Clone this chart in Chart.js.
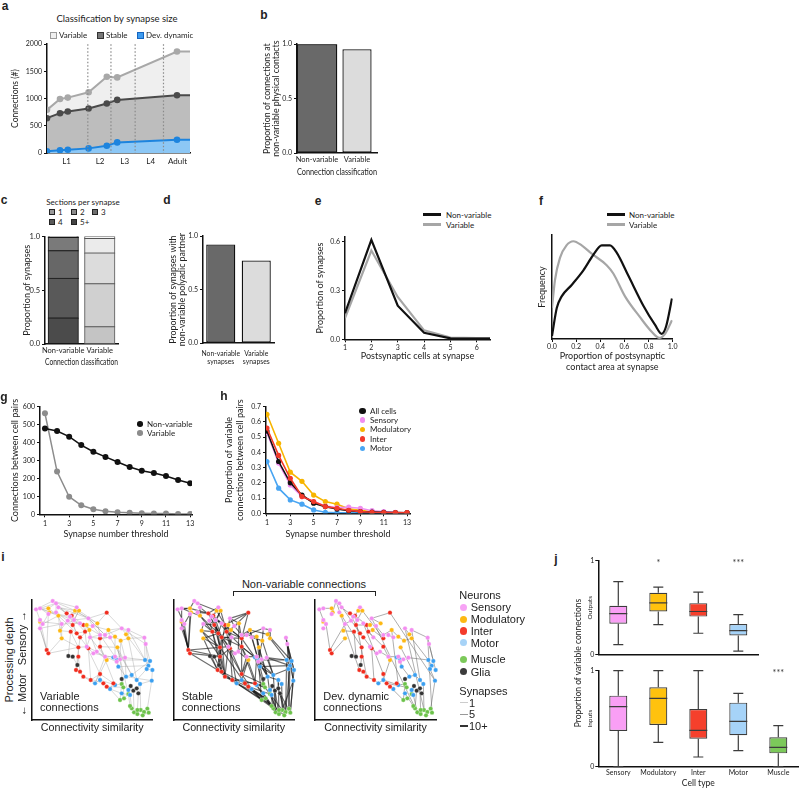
<!DOCTYPE html>
<html>
<head>
<meta charset="utf-8">
<title>Connection variability</title>
<script src="https://cdn.jsdelivr.net/npm/chart.js@4.4.1/dist/chart.umd.min.js"></script>
<style>
  body { margin: 0; background: #fff; }
  #fig { position: relative; width: 800px; height: 788px; overflow: hidden; font-family: Lato, sans-serif; color: #222; }
  #fig canvas { position: absolute; }
  .t { position: absolute; white-space: nowrap; line-height: 1; }
  .c { transform: translate(-50%, -50%); }
  .l { transform: translate(0, -50%); }
  .v { transform: translate(-50%, -50%) rotate(-90deg); }
  .sans { font-family: "Liberation Sans", Arial, sans-serif; }
  .lab { font: bold 12px "Liberation Sans", Arial, sans-serif; }
</style>
</head>
<body>
<div id="fig">
  <canvas id="chartA"></canvas>
  <canvas id="chartB"></canvas>
  <canvas id="chartC"></canvas>
  <canvas id="chartD"></canvas>
  <canvas id="chartE"></canvas>
  <canvas id="chartF"></canvas>
  <canvas id="chartG"></canvas>
  <canvas id="chartH"></canvas>
  <canvas id="chartI1"></canvas>
  <canvas id="chartI2"></canvas>
  <canvas id="chartI3"></canvas>
  <canvas id="chartJ1"></canvas>
  <canvas id="chartJ2"></canvas>
</div>
<script>
// ---- a: connections per developmental stage
const devHours = [0, 5, 8, 16, 23, 27, 50, 55];
const variableConnections = [793, 994, 1018, 1116, 1402, 1390, 1866, 1866];
const stableConnections = [640, 732, 762, 817, 909, 976, 1061, 1061];
const dynamicConnections = [30, 49, 61, 85, 134, 195, 244, 244];
const moltHours = [15.7, 24.6, 33.9, 44.8];
const stageNames = ['L1', 'L2', 'L3', 'L4', 'Adult'];
const stageHours = [7.5, 20.4, 29.9, 39.9, 50.2];
const connTicks = [0, 500, 1000, 1500, 2000];

// ---- b
const classNames = ['Non-variable', 'Variable'];
const physicalContactShare = [1.0, 0.954];

// ---- c
const sectionNames = ['1', '2', '3', '4', '5+'];
const sectionsNonVariable = [0.24, 0.37, 0.256, 0.124, 0.01];
const sectionsVariable = [0.16, 0.40, 0.285, 0.135, 0.02];

// ---- d
const polyadicNames = [['Non-variable', 'synapses'], ['Variable', 'synapses']];
const polyadicShare = [0.922, 0.773];

// ---- e
const postCells = [1, 2, 3, 4, 5, 6, 6.5];
const postNonVariable = [0.16, 0.61, 0.206, 0.04, 0.006, 0.004, 0.004];
const postVariable = [0.13, 0.545, 0.26, 0.055, 0.01, 0.008, 0.008];

// ---- f
const contactAreaNV = [0, 0.04, 0.08, 0.163, 0.26, 0.343, 0.412, 0.48, 0.536, 0.632, 0.757, 0.854, 0.909, 0.945, 0.994];
const freqNV = [0.03, 0.30, 0.41, 0.52, 0.66, 0.81, 0.90, 0.90, 0.83, 0.61, 0.32, 0.135, 0.05, 0.12, 0.39];
const contactAreaV = [0, 0.025, 0.066, 0.12, 0.177, 0.246, 0.329, 0.453, 0.508, 0.605, 0.729, 0.826, 0.89, 0.937, 0.994];
const freqV = [0.30, 0.57, 0.78, 0.90, 0.94, 0.90, 0.82, 0.71, 0.63, 0.41, 0.21, 0.07, 0.01, 0.05, 0.18];

// ---- g
const thresholds = [1, 2, 3, 4, 5, 6, 7, 8, 9, 10, 11, 12, 13];
const pairsNonVariable = [479, 464, 433, 386, 349, 320, 292, 264, 243, 230, 214, 191, 173];
const pairsVariable = [563, 238, 98, 50, 28, 17, 11, 9, 6, 4, 4, 2, 2];

// ---- h
const hNames = ['All cells', 'Sensory', 'Modulatory', 'Inter', 'Motor'];
const hAll = [0.54, 0.34, 0.20, 0.12, 0.066, 0.044, 0.028, 0.017, 0.011, 0.008, 0.006, 0.005, 0.004];
const hSensory = [0.53, 0.33, 0.186, 0.11, 0.077, 0.048, 0.037, 0.04, 0.033, 0.017, 0.011, 0.006, 0.004];
const hModulatory = [0.65, 0.46, 0.27, 0.21, 0.12, 0.077, 0.06, 0.03, 0.02, 0.01, 0.007, 0.005, 0.004];
const hInter = [0.56, 0.38, 0.23, 0.11, 0.077, 0.044, 0.033, 0.02, 0.011, 0.007, 0.005, 0.004, 0.004];
const hMotor = [0.34, 0.165, 0.088, 0.06, 0.022, 0.007, 0.004, 0.003, 0.003, 0.003, 0.002, 0.002, 0.002];

// ---- i: node layout (similarity, depth) in layout units
const sensoryNodes = [[108,268],[120,265],[158,243],[168,250],[120,300],[128,312],[120,325],[175,262],[168,277],[210,290],[203,302],[185,312],[222,300],[240,310],[265,295],[278,318],[300,345],[315,345],[270,352],[260,380],[290,395],[315,410],[345,410],[360,418],[375,413],[365,325],[385,330],[433,353],[437,372],[230,262],[145,282],[280,400],[330,352],[350,425]];
const modulatoryNodes = [[145,265],[148,277],[175,287],[225,272],[237,272],[185,355],[180,332],[260,315],[292,310],[325,330],[345,350],[362,362],[385,355],[378,343],[320,420],[352,382],[120,305],[268,330]];
const interNodes = [[140,390],[145,400],[200,280],[215,287],[230,340],[240,352],[250,315],[255,335],[265,385],[235,382],[228,450],[240,455],[250,470],[272,480],[300,462],[310,490],[320,500],[340,490],[320,278],[300,355],[212,335],[235,410],[218,315],[300,380]];
const motorNodes = [[285,490],[300,480],[330,507],[345,495],[350,420],[355,440],[378,470],[385,510],[395,465],[410,480],[420,492],[435,420],[450,423],[445,437],[440,447],[457,450],[455,482],[340,412],[365,520],[390,525]];
const muscleNodes = [[365,492],[370,502],[360,540],[372,535],[385,522],[395,565],[402,577],[412,582],[422,570],[432,576],[442,566],[446,578],[428,586],[412,570],[390,558]];
const gliaNodes = [[205,408],[218,410],[232,435],[365,477],[392,498],[400,512],[410,505],[415,520]];

const edgesVariable = 's0-s4 s0-o0 s1-s3 s1-o1 s2-s7 s2-o3 s3-s8 s3-i2 s4-s5 s5-o2 s6-i0 s6-s11 s7-s9 s8-s10 s9-s12 s10-o6 s11-o5 s12-s13 s13-o7 s14-i18 s14-s15 s15-s16 s16-s17 s17-s25 s18-i19 s19-s20 s20-s21 s21-s22 s22-s23 s23-m4 s24-m11 s25-s26 s26-s27 s27-s28 s28-m12 s29-i3 s30-i0 s31-m17 s32-o10 s33-m5 o0-o2 o1-s9 o2-i4 o3-s14 o4-o8 o5-i9 o6-i20 o7-i7 o8-s16 o9-o10 o10-o11 o11-o12 o12-s27 o13-s26 o14-m0 o15-m8 o16-s11 o17-s18 i0-i1 i1-i9 i2-i3 i3-i6 i4-i5 i5-i8 i6-i7 i7-s19 i8-i13 i9-i21 i10-i11 i11-i12 i12-m0 i13-i14 i14-m1 i15-m2 i16-u1 i17-m3 i18-s25 i19-s32 i20-g0 i21-g2 i22-i4 i23-s21 m0-m1 m1-m3 m2-u2 m3-u0 m4-m5 m5-m6 m6-m8 m7-u4 m8-m9 m9-m10 m10-u8 m11-m12 m12-m13 m13-m14 m14-m15 m15-m16 m16-u10 m17-s33 m18-u3 m19-u5 g3-u1 g4-u4 g5-u6 g6-m10 g7-u13 u0-u2 u5-u6 u7-u8 u9-u10 s13-i6 s12-o4 s3-s7 s15-o9 o9-s32 s20-o14 i19-i23 s16-s22 o11-s24 s4-i0 s8-o2 s10-i22 o5-i1 i5-i10 i12-i15 m17-m4 s1-s12 s7-s14 o3-o8 s9-i4 s12-i7 s14-s17 s18-s21 s19-i14 o7-s20 i6-s16 s25-s28 o13-m11 s26-m13 o12-m9 s24-m6 s23-u1 o15-u4 s32-m8 i23-m3 s21-m0 ' +
  's0-s2 s1-s30 s2-s29 s4-o16 s5-s30 s6-o16 s7-o3 s8-s11 s9-o4 s10-s13 s11-s13 s12-s14 s13-s15 s14-s17 s15-o17 s16-s18 s17-o9 s18-s19 s19-i9 s20-s31 s21-s33 s22-s24 s23-s24 s25-o13 s26-o12 s27-m11 s28-m13 o0-s3 o1-o2 o2-o6 o3-o4 o4-s12 o5-o6 o6-s11 o7-o17 o8-i18 o9-s25 o10-s22 o11-s23 o13-o12 o14-s21 o15-s23 i0-s6 i2-s7 i4-i7 i5-o17 i8-s31 i9-i20 i13-m0 i14-i17 i16-m2 i17-m2 i19-o10 i21-i11 i23-o15 m4-m11 m5-m13 m6-m16 m8-m12 m9-m14 m10-m16 m17-s23 m18-m19 m2-m18 m7-m19 g0-g1 g1-g2 g2-i10 g4-g5 g6-g7 u1-u3 u2-u3 u3-u4 u4-u14 u14-u5 u6-u7 u8-u9 u10-u11 u11-u12 u12-u7 u13-u8';
const edgesStable = 's0-s5 s0-o0 s1-o1 s1-s4 s2-o0 s2-s3 s3-o3 s4-i0 s5-i0 s6-i1 s6-o16 s7-o2 s8-i2 s9-i3 s10-i22 s11-o6 s12-o4 s13-i6 s14-o8 s15-i18 s16-o9 s17-s25 s18-i7 s19-i8 s20-i23 s21-s22 s22-m4 s23-m17 s24-m11 s25-s26 s26-o12 s27-s28 s28-m15 s29-o3 s30-o1 s31-s20 s32-o10 s33-m5 o0-i2 o1-o2 o2-i4 o3-i6 o4-i7 o5-i9 o6-i20 o7-i5 o8-i19 o9-i19 o10-s23 o11-m4 o12-s26 o13-o9 o14-i14 o15-m5 o16-i0 o17-i7 i0-i9 i1-i21 i2-i22 i3-i4 i4-i5 i4-i8 i5-i9 i5-i19 i6-i7 i7-i19 i7-i23 i8-i13 i8-i21 i9-i10 i9-i11 i10-i12 i11-i13 i12-m0 i13-m1 i14-m2 i14-u0 i15-u2 i16-u3 i17-u1 i18-s14 i19-s16 i20-i4 i21-g2 i22-i5 i23-o14 i23-m17 m0-u2 m1-u1 m2-u3 m3-u0 m4-m6 m5-m8 m6-u4 m7-u5 m8-u6 m9-u7 m10-u8 m11-m13 m12-m15 m13-u9 m14-u10 m15-u11 m16-u11 m17-m5 m18-u5 m19-u6 g3-m6 g4-u4 g5-u7 g6-m9 g7-u12 u0-u1 i4-i14 i5-i12 i6-i8 i19-i14 i23-i17 s16-i23 s17-o10 o9-m4 o10-m5 o11-m8 s21-m3 s22-i17 o15-m6 i8-m0 i9-i15 i21-i12 i20-i11 s13-i4 s12-i5 o7-i8 o8-s20 s18-i8 s19-i12 o17-i19 i6-i21 i3-i9 s11-i20 o6-i21 o5-i10 i2-i5 s9-i6 i22-i8 s14-i7 s15-o17 i18-i19 m4-u2 m5-u1 m17-u0 s23-m6 s24-m8 s32-m4 o12-m11 o13-m12 s28-m14 s27-m16 m16-u8 m13-u10 m11-u9 i16-u4 i17-u6 m3-u7 m2-u12 i15-u5 m0-u13 ' +
  's1-o0 s4-o16 s5-o1 s7-s9 s8-o2 s10-i20 s11-i22 s12-i6 s13-o7 s14-s15 s15-s16 s16-s17 s17-o9 s18-i5 s19-i9 s20-o14 s21-i14 s22-m17 s23-m5 s25-o11 s26-o13 s29-i2 s30-i0 s31-i8 o1-i0 o2-i20 o3-i3 o4-i22 o5-i4 o6-i9 o8-i7 o9-s32 o10-o15 o11-s32 o14-m1 o16-i1 o17-i8 i0-i21 i1-i10 i2-i6 i3-i7 i4-i9 i5-i23 i6-i19 i8-i14 i9-i12 i10-i13 i11-i15 i12-i16 i13-i17 i18-i6 i19-m17 i20-i21 i22-i9 i23-m4 m4-m11 m5-m13 m6-m9 m8-m14 m17-m8 s33-m6 m1-u2 m0-u3 g0-i10 g1-i11 g2-i12 g3-u0 g4-m7 g5-u6 g6-u9 g7-u11 u2-u5 u3-u6 u4-u7 u1-u8 s24-m13 s27-m12 s28-m16';
const edgesDynamic = 's0-s4 s1-o0 s2-o1 s3-s7 s4-o16 s5-i0 s7-s9 s8-o2 s9-i2 s10-s11 s11-i0 s12-o4 s13-o7 s14-i18 s15-s16 s16-o9 s17-s32 s18-i7 s19-s31 s20-s21 s21-s22 s22-s23 s23-m4 s24-m11 s25-o13 s26-s27 s27-m12 s28-m15 s29-o3 s30-o1 s33-m5 o0-o1 o2-i9 o3-i3 o5-i1 o6-i20 o8-s14 o9-o10 o10-o11 o11-o12 o12-m11 o14-m1 o15-m8 o17-i19 i0-i1 i2-i4 i3-i6 i4-i5 i5-i8 i6-i7 i7-i23 i8-i13 i9-i21 i10-i11 i11-i12 i12-i13 i13-m0 i14-m1 i15-u1 i16-u2 i17-m3 i19-s16 i20-g1 i21-g2 i22-i6 i23-s21 m0-m1 m1-m3 m3-u0 m4-m5 m5-m6 m6-m8 m7-u4 m8-m9 m9-m10 m10-u8 m11-m13 m13-m14 m14-m16 m16-u10 m17-s22 m18-u5 m19-u6 g3-m6 g4-u4 g5-u5 g6-u7 u0-u2 u5-u7 u9-u10 s2-i10 s3-i4 o4-i19 i3-i12 s13-i14 s14-u6 o9-m3 s26-m9 s25-u8 i18-m16 s27-u11';

// ---- j: box plots (min, q1, median, q3, max)
const cellTypes = ['Sensory', 'Modulatory', 'Inter', 'Motor', 'Muscle'];
const outMin = [0.108, 0.32, 0.229, 0.038];
const outQ1 = [0.33, 0.46, 0.406, 0.205];
const outMed = [0.4375, 0.552, 0.46, 0.257];
const outQ3 = [0.52, 0.66, 0.549, 0.327];
const outMax = [0.778, 0.72, 0.667, 0.427];
const outStars = ['', '*', '', '***'];
const inMin = [0.0, 0.254, 0.101, 0.167, 0.0];
const inQ1 = [0.372, 0.434, 0.292, 0.327, 0.139];
const inMed = [0.625, 0.712, 0.379, 0.473, 0.202];
const inQ3 = [0.74, 0.827, 0.601, 0.667, 0.306];
const inMax = [1.0, 1.0, 1.0, 0.764, 0.427];
const inStars = ['', '', '', '', '***'];

// ---------------------------------------------------------------
const AX = '#111';
const FONT = 'Lato, sans-serif';
const SANS = '"Liberation Sans", Arial, sans-serif';
Chart.defaults.font.family = FONT;
Chart.defaults.color = '#222';
Chart.defaults.animation = false;
Chart.defaults.responsive = false;
Chart.defaults.plugins.legend.display = false;
Chart.defaults.plugins.tooltip.enabled = false;

const xy = (xs, ys) => xs.map((x, i) => ({x: x, y: ys[i]}));

function scaleOpts(o) {
  const s = {
    type: o.type || 'linear',
    reverse: !!o.reverse,
    stacked: !!o.stacked,
    border: {color: AX, width: 1.5},
    grid: {display: o.marks !== false, drawOnChartArea: false, drawTicks: o.marks !== false, tickLength: 3, tickColor: AX, tickWidth: 1},
    ticks: {display: o.labels !== false, padding: o.pad === undefined ? 2 : o.pad, font: {size: o.font || 7.5, family: o.family || FONT}, color: '#222', maxRotation: 0, autoSkip: false}
  };
  if (o.min !== undefined) s.min = o.min;
  if (o.max !== undefined) s.max = o.max;
  if (o.ticks) s.afterBuildTicks = sc => { sc.ticks = o.ticks.map(v => ({value: v})); };
  if (o.fmt) s.ticks.callback = o.fmt;
  if (o.title) {
    s.title = {display: true, text: o.title, color: '#222',
      font: {size: o.titleFont || 9, family: o.family || FONT, lineHeight: o.titleLH || 1.2},
      padding: {top: o.titlePad || 0, bottom: o.titlePad || 0}};
  }
  return s;
}

// box = canvas [left, top, width, height], plot = [left, top, right, bottom] on the page
function makeChart(id, box, plot, config) {
  const cv = document.getElementById(id);
  cv.width = box[2]; cv.height = box[3];
  cv.style.left = box[0] + 'px'; cv.style.top = box[1] + 'px';
  const yw = plot[0] - box[0], xh = box[1] + box[3] - plot[3];
  config.options.layout = {autoPadding: false, padding: {top: plot[1] - box[1], right: box[0] + box[2] - plot[2], left: 0, bottom: 0}};
  config.options.scales.x.afterFit = s => { s.height = xh; };
  config.options.scales.y.afterFit = s => { s.width = yw; };
  return new Chart(cv, config);
}

// ---- a
const moltLines = {
  id: 'moltLines',
  afterDatasetsDraw(chart) {
    const {ctx, chartArea, scales} = chart;
    ctx.save();
    ctx.strokeStyle = '#8a8a8a'; ctx.lineWidth = 1.2; ctx.setLineDash([1.5, 2]);
    moltHours.forEach(h => {
      const x = scales.x.getPixelForValue(h);
      ctx.beginPath(); ctx.moveTo(x, chartArea.top); ctx.lineTo(x, chartArea.bottom); ctx.stroke();
    });
    ctx.restore();
  }
};
function areaSeries(ys, line, fill) {
  return {data: xy(devHours, ys), borderColor: line, backgroundColor: fill, fill: 'origin', borderWidth: 2,
    pointRadius: ys.map((v, i) => i < ys.length - 1 ? 3.3 : 0), pointBackgroundColor: line, pointBorderWidth: 0, tension: 0};
}
makeChart('chartA', [0, 38, 200, 137], [47, 44, 190, 153], {
  type: 'line',
  data: {datasets: [
    areaSeries(dynamicConnections, '#1d84de', '#8cc7f5'),
    areaSeries(stableConnections, '#4a4a4a', '#bdbdbd'),
    areaSeries(variableConnections, '#a8a8a8', '#efefef')
  ]},
  options: {scales: {
    x: scaleOpts({min: 0, max: 55, ticks: stageHours, fmt: (v, i) => stageNames[i], marks: false, font: 8, pad: 4}),
    y: scaleOpts({min: 0, max: 2000, ticks: connTicks, fmt: v => String(v), font: 7, title: 'Connections (#)', titleFont: 8.5, titlePad: 9.9})
  }},
  plugins: [moltLines]
});

// ---- b
makeChart('chartB', [240, 38, 145, 140], [297, 44, 377, 153], {
  type: 'bar',
  data: {labels: classNames, datasets: [
    {data: physicalContactShare.map((v, i) => i === 0 ? v : null), backgroundColor: '#696969', borderColor: AX, borderWidth: 1.3, borderSkipped: false, grouped: false, barPercentage: 1, categoryPercentage: 1},
    {data: physicalContactShare.map((v, i) => i === 1 ? v : null), backgroundColor: '#dcdcdc', borderColor: AX, borderWidth: 1.3, borderSkipped: false, grouped: false, barPercentage: 0.73, categoryPercentage: 1}
  ]},
  options: {scales: {
    x: scaleOpts({type: 'category', marks: false, font: 7.5, pad: 2.5, title: 'Connection classification', titleFont: 9, titlePad: 0.6}),
    y: scaleOpts({min: 0, max: 1, ticks: [0, 0.5, 1], fmt: v => v.toFixed(1), font: 7, title: ['Proportion of connections at', 'non-variable physical contacts'], titleFont: 8.8, titleLH: 1.05, titlePad: 22.5})
  }}
});

// ---- c
const nonVarShades = ['#4b4b4b', '#595959', '#676767', '#7a7a7a', '#8a8a8a'];
const varShades = ['#c4c4c4', '#d0d0d0', '#dcdcdc', '#ebebeb', '#f7f7f7'];
makeChart('chartC', [0, 230, 125, 138], [45, 236, 118, 344], {
  type: 'bar',
  data: {labels: classNames, datasets: sectionNames.map((name, i) => ({
    label: name, data: [sectionsNonVariable[i], sectionsVariable[i]],
    backgroundColor: [nonVarShades[i], varShades[i]], borderColor: ['#151515', '#555555'], borderWidth: 1, borderSkipped: false,
    inflateAmount: 0.6, barPercentage: 0.82, categoryPercentage: 1}))},
  options: {scales: {
    x: scaleOpts({type: 'category', stacked: true, marks: false, font: 7.5, pad: 2.5, title: 'Connection classification', titleFont: 9, titlePad: 0.6}),
    y: scaleOpts({stacked: true, min: 0, max: 1, ticks: [0, 0.5, 1], fmt: v => v.toFixed(1), font: 7.5, title: 'Proportion of synapses', titleFont: 9, titlePad: 21.6})
  }}
});

// ---- d
makeChart('chartD', [160, 230, 120, 145], [203, 236, 274, 343], {
  type: 'bar',
  data: {labels: polyadicNames, datasets: [
    {data: polyadicShare, backgroundColor: ['#696969', '#dcdcdc'], borderColor: AX, borderWidth: 1.3, borderSkipped: false, barPercentage: 0.82, categoryPercentage: 1}
  ]},
  options: {scales: {
    x: scaleOpts({type: 'category', marks: false, font: 6.8, pad: 7}),
    y: scaleOpts({min: 0, max: 1, ticks: [0, 0.5, 1], fmt: v => v.toFixed(1), font: 7, title: ['Proportion of synapses with', 'non-variable polyadic partner'], titleFont: 8.8, titleLH: 1.05, titlePad: 8.8})
  }}
});

// ---- e
function plainLine(xs, ys, color, width, extra) {
  return Object.assign({data: xy(xs, ys), borderColor: color, backgroundColor: color, borderWidth: width, pointRadius: 0, fill: false, tension: 0}, extra || {});
}
makeChart('chartE', [305, 230, 195, 140], [345, 236.7, 490, 339.3], {
  type: 'line',
  data: {datasets: [
    plainLine(postCells, postNonVariable, '#111', 2.2),
    plainLine(postCells, postVariable, '#a6a6a6', 2.2)
  ]},
  options: {scales: {
    x: scaleOpts({min: 1, max: 6.5, ticks: [1, 2, 3, 4, 5, 6], font: 7, pad: 1, title: 'Postsynaptic cells at synapse', titleFont: 9, titlePad: 8.6}),
    y: scaleOpts({min: 0, max: 0.63, ticks: [0, 0.3, 0.6], fmt: v => v.toFixed(1), font: 7, title: 'Proportion of synapses', titleFont: 9, titlePad: 9.6})
  }}
});

// ---- f
makeChart('chartF', [530, 228, 150, 145], [552, 235, 672.7, 339], {
  type: 'line',
  data: {datasets: [
    plainLine(contactAreaNV, freqNV, '#111', 2.2, {cubicInterpolationMode: 'monotone'}),
    plainLine(contactAreaV, freqV, '#a6a6a6', 2.2, {cubicInterpolationMode: 'monotone'})
  ]},
  options: {scales: {
    x: scaleOpts({min: 0, max: 1, ticks: [0, 0.2, 0.4, 0.6, 0.8, 1], fmt: v => v.toFixed(1), font: 7, pad: 1, title: ['Proportion of postsynaptic', 'contact area at synapse'], titleFont: 9, titlePad: 0.8}),
    y: scaleOpts({min: 0, max: 1, marks: false, labels: false, title: 'Frequency', titleFont: 9, titlePad: 6.6})
  }}
});

// ---- g
makeChart('chartG', [0, 398, 200, 142], [40, 406.7, 192, 514.3], {
  type: 'line',
  data: {datasets: [
    plainLine(thresholds, pairsNonVariable, '#111', 1.5, {pointRadius: 3, pointBorderWidth: 0}),
    plainLine(thresholds, pairsVariable, '#8c8c8c', 1.5, {pointRadius: 3, pointBorderWidth: 0})
  ]},
  options: {scales: {
    x: scaleOpts({min: 0.59, max: 13.15, ticks: [1, 3, 5, 7, 9, 11, 13], font: 7, pad: 2.2, title: 'Synapse number threshold', titleFont: 9, titlePad: 0.6}),
    y: scaleOpts({min: 0, max: 600, ticks: [0, 100, 200, 300, 400, 500, 600], font: 7, title: 'Connections between cell pairs', titleFont: 9, titlePad: 9.6})
  }}
});

// ---- h
const hValues = [hAll, hSensory, hModulatory, hInter, hMotor];
const hColors = ['#111111', '#f08ef0', '#f7b500', '#f23a2a', '#49a5f2'];
const hDrawOrder = [3, 0, 1, 2, 4];
makeChart('chartH', [220, 398, 195, 142], [266, 406.7, 410, 513.3], {
  type: 'line',
  data: {datasets: hDrawOrder.map(k => plainLine(thresholds, hValues[k], hColors[k], 1.6, {pointRadius: 2.6, pointBorderWidth: 0}))},
  options: {scales: {
    x: scaleOpts({min: 0.92, max: 13.25, ticks: [1, 3, 5, 7, 9, 11, 13], font: 7, pad: 2.2, title: 'Synapse number threshold', titleFont: 9, titlePad: 0.6}),
    y: scaleOpts({min: 0, max: 0.7, ticks: [0, 0.1, 0.2, 0.3, 0.4, 0.5, 0.6, 0.7], fmt: v => v.toFixed(1), font: 7, title: ['Proportion of variable', 'connections between cell pairs'], titleFont: 9, titlePad: 3.9})
  }}
});

// ---- i: network graphs
const nodeGroups = {s: sensoryNodes, o: modulatoryNodes, i: interNodes, m: motorNodes, u: muscleNodes, g: gliaNodes};
const nodeColors = {s: '#f38ef0', o: '#fdb813', i: '#f02c1e', m: '#3a9ff0', u: '#6cc24a', g: '#333333'};
function parseEdges(str) {
  return str.trim().split(/\s+/).map(p => p.split('-').map(k => nodeGroups[k[0]][+k.slice(1)]));
}
function edgePlugin(pairs, color, width) {
  return {
    id: 'edges',
    beforeDatasetsDraw(chart) {
      const {ctx, scales: {x, y}} = chart;
      ctx.save();
      ctx.strokeStyle = color; ctx.lineWidth = width; ctx.lineCap = 'round';
      pairs.forEach(([a, b]) => {
        ctx.beginPath();
        ctx.moveTo(x.getPixelForValue(a[0]), y.getPixelForValue(a[1]));
        ctx.lineTo(x.getPixelForValue(b[0]), y.getPixelForValue(b[1]));
        ctx.stroke();
      });
      ctx.restore();
    }
  };
}
function networkChart(id, left, plotLeft, edges, color, width) {
  const datasets = ['g', 'u', 'm', 'i', 'o', 's'].map(k => ({
    data: nodeGroups[k].map(p => ({x: p[0], y: p[1]})),
    backgroundColor: nodeColors[k], pointRadius: 2.2, pointBorderWidth: 0.4, pointBorderColor: 'rgba(255,255,255,0.8)', clip: false
  }));
  makeChart(id, [left, 595, 142, 145], [plotLeft, 600, plotLeft + 121, 720], {
    type: 'scatter',
    data: {datasets: datasets.reverse()},
    options: {scales: {
      x: scaleOpts({min: 95, max: 458, marks: false, labels: false, title: 'Connectivity similarity', titleFont: 10.7, titlePad: 5.3, family: SANS}),
      y: scaleOpts({min: 240, max: 600, reverse: true, marks: false, labels: false})
    }},
    plugins: [edgePlugin(parseEdges(edges), color, width)]
  });
}
networkChart('chartI1', 20, 31.7, edgesVariable, 'rgba(135,135,135,0.42)', 0.75);
networkChart('chartI2', 162, 173.3, edgesStable, 'rgba(20,20,20,0.62)', 1.15);
networkChart('chartI3', 303, 315, edgesDynamic, 'rgba(105,105,105,0.6)', 0.9);

// ---- j: box plots
function boxPlugin(mins, meds, maxs, stars) {
  return {
    id: 'whiskers',
    afterDatasetsDraw(chart) {
      const {ctx, scales: {y}} = chart;
      const meta = chart.getDatasetMeta(0);
      ctx.save();
      ctx.strokeStyle = '#3c3c3c'; ctx.lineWidth = 1.2;
      meta.data.forEach((bar, i) => {
        const cx = bar.x, hw = bar.width / 2, cap = 5;
        const yMin = y.getPixelForValue(mins[i]), yMax = y.getPixelForValue(maxs[i]);
        const yMed = y.getPixelForValue(meds[i]);
        const lo = Math.max(bar.y, bar.base), hi = Math.min(bar.y, bar.base);
        ctx.beginPath();
        ctx.moveTo(cx, hi); ctx.lineTo(cx, yMax);
        ctx.moveTo(cx - cap, yMax); ctx.lineTo(cx + cap, yMax);
        ctx.moveTo(cx, lo); ctx.lineTo(cx, yMin);
        ctx.moveTo(cx - cap, yMin); ctx.lineTo(cx + cap, yMin);
        ctx.moveTo(cx - hw, yMed); ctx.lineTo(cx + hw, yMed);
        ctx.stroke();
        if (stars[i]) {
          ctx.fillStyle = '#333'; ctx.font = '9px ' + FONT; ctx.textAlign = 'center'; ctx.textBaseline = 'middle';
          ctx.fillText(stars[i], cx, y.getPixelForValue(1) + 2);
        }
      });
      ctx.restore();
    }
  };
}
const cellColors = ['#f99ff5', '#ffc20e', '#f5402c', '#a6d3f8', '#7cc95a'];
function boxChart(id, box, plot, n, q1, q3, mins, meds, maxs, stars, bottom) {
  makeChart(id, box, plot, {
    type: 'bar',
    data: {labels: cellTypes.slice(0, n), datasets: [{
      data: q1.map((v, i) => [v, q3[i]]), backgroundColor: cellColors.slice(0, n),
      borderColor: '#3c3c3c', borderWidth: 1.2, borderSkipped: false, barPercentage: 0.45, categoryPercentage: 1
    }]},
    options: {scales: {
      x: bottom
        ? scaleOpts({type: 'category', marks: false, font: 7, pad: 2, title: 'Cell type', titleFont: 8.5, titlePad: 0})
        : scaleOpts({type: 'category', marks: false, labels: false}),
      y: scaleOpts({min: 0, max: 1, ticks: [0, 1], font: 7, pad: 1, title: bottom ? 'Inputs' : 'Outputs', titleFont: 6.5, titlePad: 26.1})
    }},
    plugins: [boxPlugin(mins, meds, maxs, stars)]
  });
}
boxChart('chartJ1', [560, 550, 240, 110], [598.3, 560.7, 758.3, 656.7], 4, outQ1, outQ3, outMin, outMed, outMax, outStars, false);
boxChart('chartJ2', [560, 660, 240, 128], [598.3, 670.7, 798.3, 766.7], 5, inQ1, inQ3, inMin, inMed, inMax, inStars, true);

// ---- text, legends, annotations
const fig = document.getElementById('fig');
function addText(txt, x, y, cls, css) {
  const d = document.createElement('div');
  d.className = 't ' + (cls || 'l');
  d.textContent = txt;
  d.style.left = x + 'px'; d.style.top = y + 'px';
  if (css) d.style.cssText += css;
  fig.appendChild(d);
  return d;
}
function addShape(x, y, w, h, css) {
  const d = document.createElement('div');
  d.style.cssText = 'position:absolute;box-sizing:border-box;left:' + x + 'px;top:' + y + 'px;width:' + w + 'px;height:' + h + 'px;' + css;
  fig.appendChild(d);
  return d;
}
const dot = (x, y, r, color) => addShape(x - r, y - r, 2 * r, 2 * r, 'border-radius:50%;background:' + color);
const square = (x, y, s, fill, stroke) => addShape(x, y - s / 2, s, s, 'background:' + fill + ';border:1px solid ' + stroke);
const hline = (x1, x2, y, t, color) => addShape(x1, y - t / 2, x2 - x1, t, 'background:' + color);

[['a', 5, 6], ['b', 264, 15], ['c', 4, 200], ['d', 167, 200], ['e', 318, 201], ['f', 541, 201],
 ['g', 4, 397], ['h', 224, 396], ['i', 3, 557], ['j', 556, 559]].forEach(p => addText(p[0], p[1], p[2], 'c lab'));

// a
addText('Classification by synapse size', 117, 19, 'c', 'font-size:9.5px');
square(50, 35, 7, '#efefef', '#9a9a9a'); addText('Variable', 59, 35, 'l', 'font-size:8px');
square(97, 35, 7, '#777777', '#333333'); addText('Stable', 106, 35, 'l', 'font-size:8px');
square(137, 35, 7, '#3d9bf0', '#1565c0'); addText('Dev. dynamic', 146, 35, 'l', 'font-size:8px');

// c
addText('Sections per synapse', 83, 202, 'c', 'font-size:8px');
const legendShades = ['#9a9a9a', '#8a8a8a', '#6e6e6e', '#5a5a5a', '#444444'];
const sectionSpots = [[49, 212], [71, 212], [92, 212], [49, 222], [71, 222]];
sectionNames.forEach((n, i) => {
  square(sectionSpots[i][0], sectionSpots[i][1], 6, legendShades[i], '#222');
  addText(n, sectionSpots[i][0] + 9, sectionSpots[i][1], 'l', 'font-size:8px');
});

// e, f
[[423, 446], [607, 629]].forEach(p => {
  hline(p[0], p[0] + 18, 214.5, 2.2, '#111'); addText('Non-variable', p[1], 214.5, 'l', 'font-size:8px');
  hline(p[0], p[0] + 18, 224.5, 2.2, '#a6a6a6'); addText('Variable', p[1], 224.5, 'l', 'font-size:8px');
});

// g
dot(140, 424, 2.8, '#111'); addText('Non-variable', 147, 424, 'l', 'font-size:8px');
dot(140, 433, 2.8, '#8c8c8c'); addText('Variable', 147, 433, 'l', 'font-size:8px');

// h
const hLegendY = [411, 420, 429.3, 439, 448.3];
hNames.forEach((n, i) => {
  dot(362.7, hLegendY[i], i === 0 ? 3.4 : 2.8, hColors[i]);
  addText(n, 370, hLegendY[i], 'l', 'font-size:8px');
});

// i
addText('Processing depth', 9.3, 660, 'v sans', 'font-size:11px');
addText('Sensory \u2192', 21.7, 638, 'v sans', 'font-size:11px');
addText('\u2190 Motor', 21.7, 695, 'v sans', 'font-size:11px');
[['Variable', 40], ['Stable', 181.7], ['Dev. dynamic', 323.3]].forEach(p => {
  addText(p[0], p[1], 695.7, 'l sans', 'font-size:11px');
  addText('connections', p[1], 706.5, 'l sans', 'font-size:11px');
});
addText('Non-variable connections', 304, 584.3, 'c sans', 'font-size:11px');
addShape(233.3, 591, 142.7, 4.5, 'border:1px solid #222;border-bottom:none');

addText('Neurons', 459.3, 595, 'l sans', 'font-size:11px');
const neuronLegend = [['Sensory', 607.3, '#f7a3f5'], ['Modulatory', 619.3, '#fdb913'], ['Inter', 631, '#f43b2b'],
  ['Motor', 642.7, '#a7d3f7'], ['Muscle', 659.3, '#7cc95a'], ['Glia', 671.7, '#3b3b3b']];
neuronLegend.forEach(p => { dot(463.3, p[1], 3.7, p[2]); addText(p[0], 470.7, p[1], 'l sans', 'font-size:11px'); });
addText('Synapses', 459.3, 691, 'l sans', 'font-size:11px');
[['1', 702.7, 1, '#cccccc'], ['5', 714.3, 1.4, '#999999'], ['10+', 726, 1.8, '#333333']].forEach(p => {
  hline(460, 467.5, p[1], p[2], p[3]); addText(p[0], 469, p[1], 'l sans', 'font-size:11px');
});

// j
addText('Proportion of variable connections', 578, 663, 'v', 'font-size:8.5px');
</script>
</body>
</html>
